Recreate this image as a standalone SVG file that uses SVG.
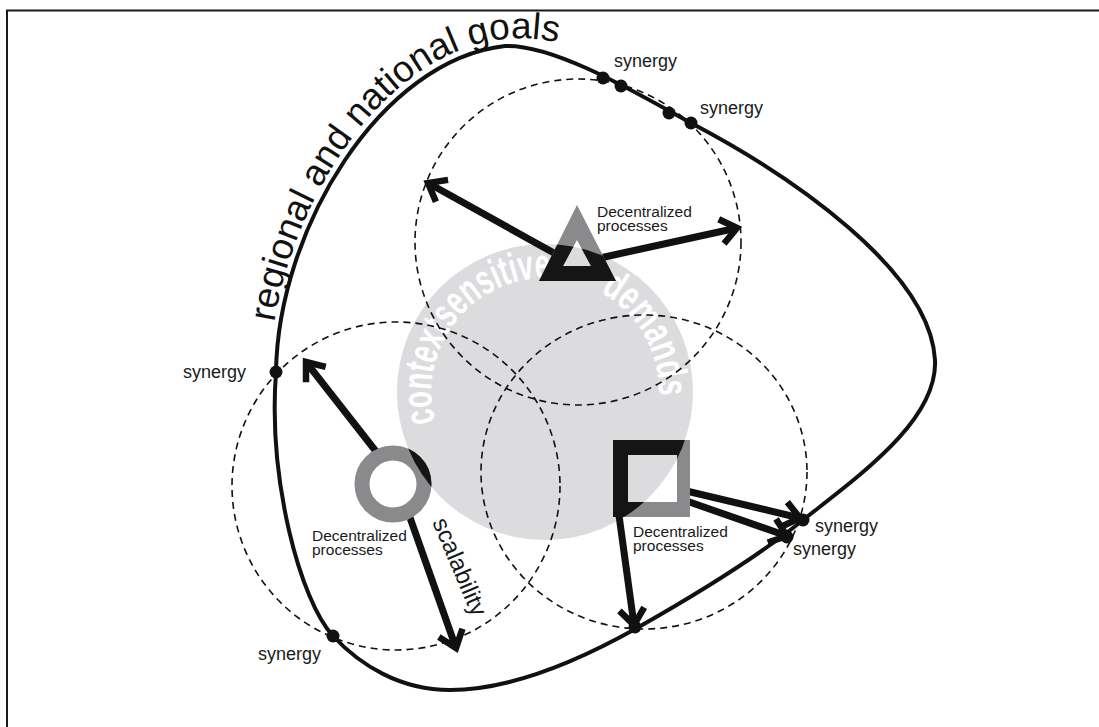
<svg xmlns="http://www.w3.org/2000/svg" xmlns:xlink="http://www.w3.org/1999/xlink" width="1099" height="727" viewBox="0 0 1099 727">
  <style>
    .frame { fill: none; stroke: #1a1a1a; stroke-width: 2; }
    .zone { fill: none; stroke: #111; stroke-width: 1.6; stroke-dasharray: 7 5; }
    .outer { fill: none; stroke: #111; stroke-width: 4; }
    .arrow { fill: none; stroke: #111; stroke-width: 7; marker-end: url(#chev); }
    .dot { fill: #111; }
    .grey { fill: #8a8a8c; }
    .dark { fill: #151515; }
    .ringGrey { fill: none; stroke: #8a8a8c; stroke-width: 15; }
    .ringDark { fill: none; stroke: #151515; stroke-width: 15; }
    .lbl { font-family: "Liberation Sans", Arial, sans-serif; fill: #1a1a1a; }
    .syn { font-size: 18px; }
    .dec { font-size: 15.5px; }
    .arc { font-family: "Liberation Sans", Arial, sans-serif; font-size: 42px; font-weight: bold; fill: #ffffff; }
    .goals { font-family: "Liberation Sans", Arial, sans-serif; font-size: 37px; fill: #111; }
  </style>
  <defs>
    <marker id="chev" markerUnits="userSpaceOnUse" orient="auto" overflow="visible" viewBox="-30 -20 40 40" markerWidth="40" markerHeight="40" refX="0" refY="0">
      <path d="M-16,-12.5 L0,0 L-16,12.5" fill="none" stroke="#111" stroke-width="6.5"/>
    </marker>
    <clipPath id="inCore">
      <circle cx="545" cy="392" r="148"/>
    </clipPath>
    <path id="triShape" fill-rule="evenodd" d="M577,205 L616,281 L539,281 Z M577,240 L563,266 L591,266 Z"/>
    <path id="sqShape" fill-rule="evenodd" d="M613,440 H690 V517 H613 Z M628,455 V502 H677 V455 Z"/>
    <path id="arcCtx" d="M435.4,422.0 A114,114 0 0 1 549.0,278.1"/>
    <path id="arcDem" d="M600.3,292.2 A114,114 0 0 1 658.9,396.0"/>
    <path id="goalsPath" d="M269,380 C271,225 376,52 505,39 C545,36 575,45 600,58"/>
  </defs>

  <rect width="1099" height="727" fill="#ffffff"/>
  <!-- page frame: top and left rules -->
  <path class="frame" d="M6,10.5 H1099 M7,10 V727"/>

  <!-- shared core: context-sensitive demands -->
  <g id="core">
    <circle cx="545" cy="392" r="148" fill="#dcdcdf"/>
    <text class="arc"><textPath xlink:href="#arcCtx" href="#arcCtx" textLength="214" lengthAdjust="spacingAndGlyphs">contextsensitive</textPath></text>
    <text class="arc"><textPath xlink:href="#arcDem" href="#arcDem" textLength="125" lengthAdjust="spacingAndGlyphs">demands</textPath></text>
  </g>

  <!-- reach of each decentralized process -->
  <g id="zones">
    <circle class="zone" cx="578" cy="242" r="163"/>
    <circle class="zone" cx="396" cy="486" r="164"/>
    <ellipse class="zone" cx="644" cy="472" rx="163" ry="157"/>
  </g>

  <!-- regional and national goals boundary -->
  <g id="goals">
    <path class="outer" d="M276,372 C278,230 380,60 505,46 C555,44 640,95 691,123 C790,175 930,270 935,360 C938,420 860,475 803,520 C760,555 690,598 637,628 C580,660 510,690 450,690 C400,690 360,665 333,636 C300,600 268,480 276,372 Z"/>
    <text class="goals"><textPath xlink:href="#goalsPath" href="#goalsPath" startOffset="58">regional and national goals</textPath></text>
  </g>

  <!-- connectors -->
  <g id="connectors">
    <line class="arrow" x1="563" y1="258" x2="428" y2="183"/>
    <line class="arrow" x1="600" y1="258" x2="737" y2="228"/>
    <line class="arrow" x1="378" y1="454" x2="306" y2="362"/>
    <line class="arrow" x1="408" y1="512" x2="456" y2="648"/>
    <line class="arrow" x1="618" y1="508" x2="634" y2="625"/>
    <line class="arrow" x1="678" y1="489" x2="800" y2="518"/>
    <line class="arrow" x1="678" y1="498" x2="787" y2="536"/>
  </g>

  <!-- process: triangle -->
  <g id="process-triangle">
    <use href="#triShape" xlink:href="#triShape" class="grey"/>
    <use href="#triShape" xlink:href="#triShape" class="dark" clip-path="url(#inCore)"/>
    <text class="lbl dec" x="597" y="217">Decentralized</text>
    <text class="lbl dec" x="597" y="231">processes</text>
  </g>

  <!-- process: ring -->
  <g id="process-ring">
    <circle class="ringGrey" cx="393" cy="484" r="31"/>
    <circle class="ringDark" cx="393" cy="484" r="31" clip-path="url(#inCore)"/>
    <text class="lbl dec" x="312" y="541">Decentralized</text>
    <text class="lbl dec" x="312" y="555">processes</text>
    <text class="lbl" font-size="24" transform="translate(432,522) rotate(67)">scalability</text>
  </g>

  <!-- process: square -->
  <g id="process-square">
    <use href="#sqShape" xlink:href="#sqShape" class="grey"/>
    <use href="#sqShape" xlink:href="#sqShape" class="dark" clip-path="url(#inCore)"/>
    <text class="lbl dec" x="633" y="537">Decentralized</text>
    <text class="lbl dec" x="633" y="551">processes</text>
  </g>

  <!-- synergy points -->
  <g id="synergies">
    <circle class="dot" cx="276" cy="372" r="6.5"/>
    <circle class="dot" cx="333" cy="636" r="6.5"/>
    <circle class="dot" cx="603" cy="78" r="6.5"/>
    <circle class="dot" cx="621" cy="86" r="6.5"/>
    <circle class="dot" cx="669" cy="113" r="6.5"/>
    <circle class="dot" cx="691" cy="123" r="6.5"/>
    <circle class="dot" cx="803" cy="520" r="6.5"/>
    <circle class="dot" cx="787" cy="537" r="6.5"/>
    <circle class="dot" cx="635" cy="627" r="6.5"/>
    <text class="lbl syn" x="614" y="67">synergy</text>
    <text class="lbl syn" x="700" y="114">synergy</text>
    <text class="lbl syn" x="183" y="378">synergy</text>
    <text class="lbl syn" x="258" y="660">synergy</text>
    <text class="lbl syn" x="815" y="532">synergy</text>
    <text class="lbl syn" x="793" y="555">synergy</text>
  </g>
</svg>
